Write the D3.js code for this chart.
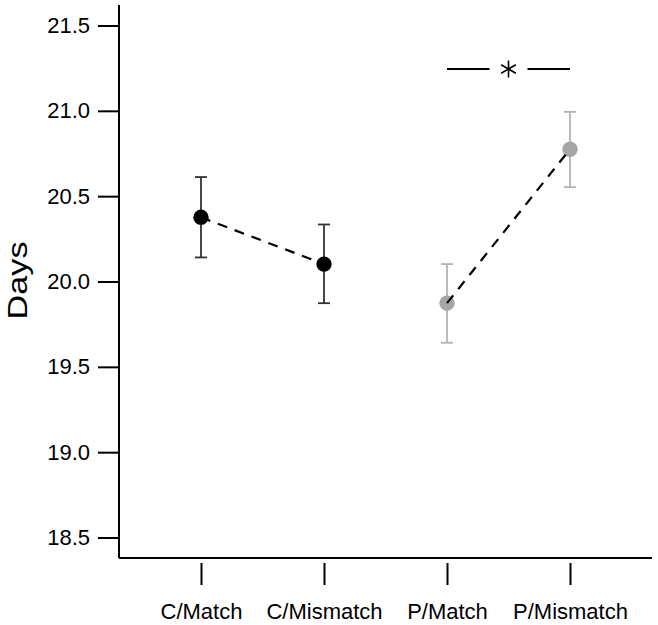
<!DOCTYPE html>
<html>
<head>
<meta charset="utf-8">
<script src="https://cdn.jsdelivr.net/npm/d3@7"></script>
<style>
  html, body { margin: 0; padding: 0; background: #fff; }
  svg { display: block; font-family: Arial, "Liberation Sans", sans-serif; }
</style>
</head>
<body>
<svg id="chart" width="658" height="625"></svg>
<script>
// ---- Data ----
const categories = ["C/Match", "C/Mismatch", "P/Match", "P/Mismatch"];
const means      = [20.376, 20.102, 19.873, 20.775];
const upper      = [20.612, 20.334, 20.102, 20.994];
const lower      = [20.141, 19.873, 19.641, 20.553];
const groups     = ["C", "C", "P", "P"];
const yTicks     = [18.5, 19.0, 19.5, 20.0, 20.5, 21.0, 21.5];
const yLabel     = "Days";
const sigPair    = ["P/Match", "P/Mismatch"];
const sigLabel   = "*";

const pointColor = { C: "#000000", P: "#a6a6a6" };
const barColor   = { C: "#333333", P: "#b3b3b3" };

// ---- Layout ----
const svg = d3.select("#chart");
const axisX0 = 119, axisX1 = 652, axisY = 558, axisTop = 5;

const x = d3.scalePoint().domain(categories).range([201, 570]);
const y = d3.scaleLinear().domain([18.38, 21.62]).range([axisY, axisTop]);

const data = categories.map((c, i) => ({
  cat: c, mean: means[i], hi: upper[i], lo: lower[i], g: groups[i]
}));

// Y axis
const yAxis = d3.axisLeft(y).tickValues(yTicks).tickFormat(d3.format(".1f"))
  .tickSize(21).tickPadding(8);
const gy = svg.append("g").attr("transform", `translate(${axisX0},0)`).call(yAxis);
gy.select(".domain").attr("d", `M0,${axisTop}V${axisY}`).attr("stroke", "#000").attr("stroke-width", 2);
gy.selectAll(".tick line").attr("stroke", "#000").attr("stroke-width", 2);
gy.selectAll(".tick text").attr("font-size", 22).attr("fill", "#000")
  .attr("font-family", "Arial, 'Liberation Sans', sans-serif");

// X axis line
svg.append("line").attr("x1", axisX0).attr("x2", axisX1).attr("y1", axisY).attr("y2", axisY)
  .attr("stroke", "#000").attr("stroke-width", 2);

// X axis ticks (offset below axis) and labels
const xAxis = d3.axisBottom(x).tickSize(22).tickPadding(18);
const gx = svg.append("g").attr("transform", `translate(0,${axisY + 5})`).call(xAxis);
gx.select(".domain").remove();
gx.selectAll(".tick line").attr("stroke", "#000").attr("stroke-width", 2);
gx.selectAll(".tick text").attr("font-size", 22).attr("fill", "#000")
  .attr("font-family", "Arial, 'Liberation Sans', sans-serif");

// Y label
svg.append("text")
  .attr("transform", `translate(26.5,280.5) rotate(-90)`)
  .attr("text-anchor", "middle")
  .attr("font-size", 27)
  .attr("textLength", 78)
  .attr("lengthAdjust", "spacingAndGlyphs")
  .attr("fill", "#000")
  .text(yLabel);

// Dashed connecting line, C group
{
  const pts = data.filter(d => d.g === "C");
  svg.append("path")
    .attr("d", d3.line().x(d => x(d.cat)).y(d => y(d.mean))(pts))
    .attr("fill", "none")
    .attr("stroke", "#000")
    .attr("stroke-width", 2.2)
    .attr("stroke-dasharray", "10,8");
}

// Error bars
const capW = 6;
const eb = svg.append("g").selectAll("g").data(data).join("g");
eb.append("line")
  .attr("x1", d => x(d.cat)).attr("x2", d => x(d.cat))
  .attr("y1", d => y(d.hi)).attr("y2", d => y(d.lo))
  .attr("stroke", d => barColor[d.g]).attr("stroke-width", 1.8);
eb.append("line")
  .attr("x1", d => x(d.cat) - capW).attr("x2", d => x(d.cat) + capW)
  .attr("y1", d => y(d.hi)).attr("y2", d => y(d.hi))
  .attr("stroke", d => barColor[d.g]).attr("stroke-width", 1.8);
eb.append("line")
  .attr("x1", d => x(d.cat) - capW).attr("x2", d => x(d.cat) + capW)
  .attr("y1", d => y(d.lo)).attr("y2", d => y(d.lo))
  .attr("stroke", d => barColor[d.g]).attr("stroke-width", 1.8);

// Points
svg.append("g").selectAll("circle").data(data).join("circle")
  .attr("cx", d => x(d.cat)).attr("cy", d => y(d.mean))
  .attr("r", 7.7)
  .attr("fill", d => pointColor[d.g]);

// Dashed line drawn over the grey points (as in the reference)
{
  const pts = data.filter(d => d.g === "P");
  svg.append("path")
    .attr("d", d3.line().x(d => x(d.cat)).y(d => y(d.mean))(pts))
    .attr("fill", "none")
    .attr("stroke", "#000")
    .attr("stroke-width", 2.2)
    .attr("stroke-dasharray", "10,8");
}

// Significance annotation
const sx0 = x(sigPair[0]), sx1 = x(sigPair[1]);
const sxm = (sx0 + sx1) / 2, sy = 69;
const gap = 19;
svg.append("line").attr("x1", sx0).attr("x2", sxm - gap).attr("y1", sy).attr("y2", sy)
  .attr("stroke", "#000").attr("stroke-width", 2);
svg.append("line").attr("x1", sxm + gap).attr("x2", sx1).attr("y1", sy).attr("y2", sy)
  .attr("stroke", "#000").attr("stroke-width", 2);
// asterisk glyph drawn with three strokes
const ast = svg.append("g").attr("transform", `translate(${sxm},${sy})`).attr("aria-label", sigLabel);
[90, 30, 150].forEach(a => {
  const r = 8.5, rad = a * Math.PI / 180;
  ast.append("line")
    .attr("x1", -r * Math.cos(rad)).attr("y1", -r * Math.sin(rad))
    .attr("x2", r * Math.cos(rad)).attr("y2", r * Math.sin(rad))
    .attr("stroke", "#000").attr("stroke-width", 1.6);
});
</script>
</body>
</html>
